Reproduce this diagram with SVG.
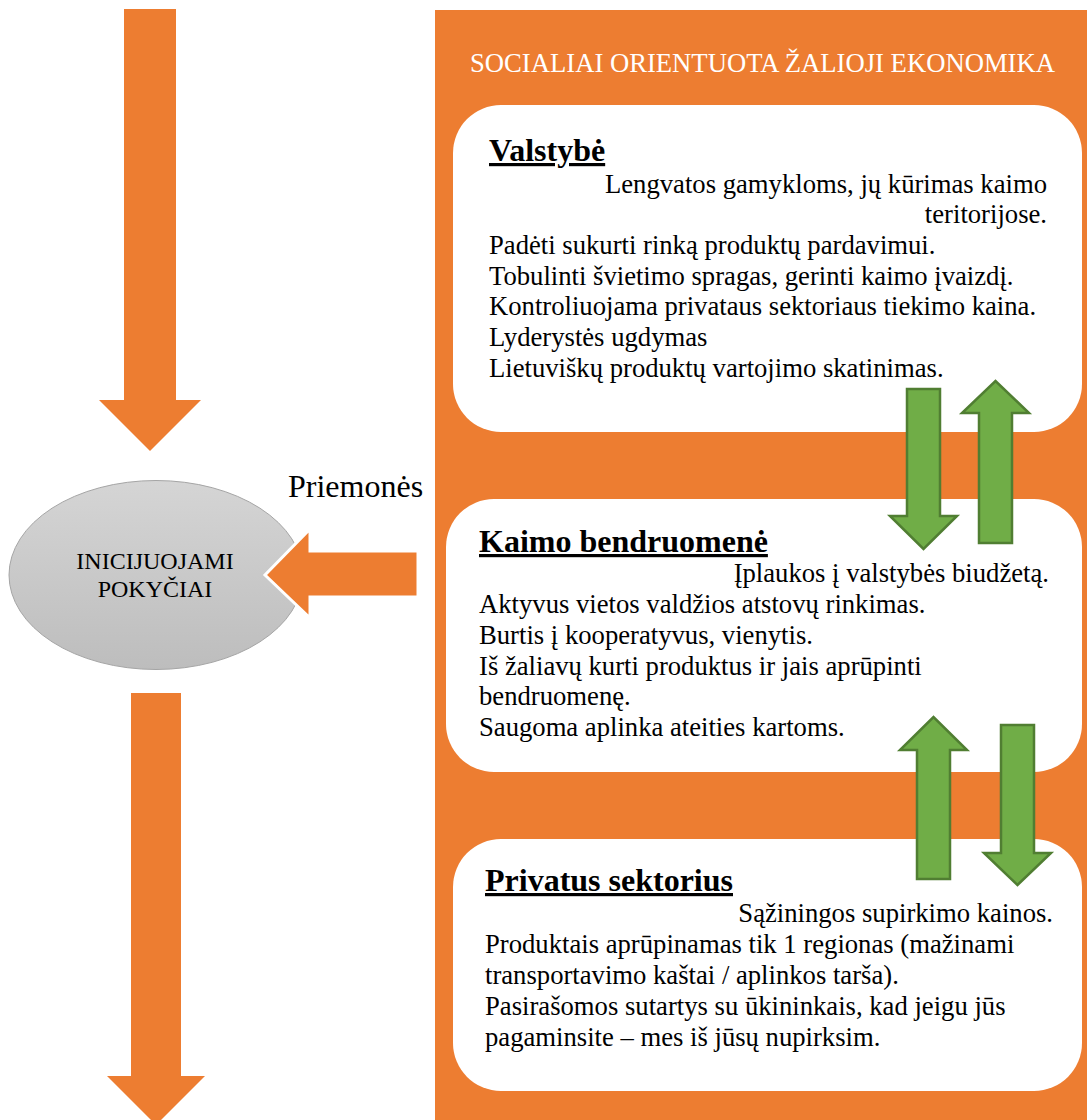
<svg xmlns="http://www.w3.org/2000/svg" width="1087" height="1120" viewBox="0 0 1087 1120" font-family="Liberation Serif, Tinos, DejaVu Serif, serif">
<style>
.orange{fill:#ed7d31}
.green{fill:#70ad47;stroke:#507e32;stroke-width:2.5;stroke-linejoin:miter}
.box{fill:#ffffff}
text{font-family:'Liberation Serif',Tinos,'DejaVu Serif',serif}
.body{font-size:26.67px;fill:#000}
.title{font-size:32px;font-weight:bold;fill:#000;text-decoration:underline;text-decoration-thickness:3px}
.end{text-anchor:end}
.white{font-size:26.67px;fill:#ffffff}
.oval{font-size:24px;fill:#000;text-anchor:middle}
.big{font-size:32px;fill:#000}
</style>
<defs>
<linearGradient id="grey" x1="0" y1="0" x2="0" y2="1">
<stop offset="0" stop-color="#d5d5d5"/>
<stop offset="1" stop-color="#bdbdbd"/>
</linearGradient>
</defs>
<rect id="panel" class="orange" x="435" y="10" width="660" height="1115"/>
<g id="panel-title">
<text class="white" x="470" y="72">SOCIALIAI ORIENTUOTA ŽALIOJI EKONOMIKA</text>
</g>
<g id="valstybe">
<rect class="box" x="453" y="105" width="629" height="327" rx="48" ry="48"/>
<text class="title" x="489" y="161">Valstybė</text>
<text class="body end" x="1047" y="193">Lengvatos gamykloms, jų kūrimas kaimo</text>
<text class="body end" x="1047" y="223">teritorijose.</text>
<text class="body" x="489" y="254">Padėti sukurti rinką produktų pardavimui.</text>
<text class="body" x="489" y="285">Tobulinti švietimo spragas, gerinti kaimo įvaizdį.</text>
<text class="body" x="489" y="315">Kontroliuojama privataus sektoriaus tiekimo kaina.</text>
<text class="body" x="489" y="346">Lyderystės ugdymas</text>
<text class="body" x="489" y="377">Lietuviškų produktų vartojimo skatinimas.</text>
</g>
<g id="kaimo">
<rect class="box" x="446" y="499" width="636" height="273" rx="48" ry="48"/>
<text class="title" x="479" y="552">Kaimo bendruomenė</text>
<text class="body end" x="1049" y="582">Įplaukos į valstybės biudžetą.</text>
<text class="body" x="479" y="613">Aktyvus vietos valdžios atstovų rinkimas.</text>
<text class="body" x="479" y="644">Burtis į kooperatyvus, vienytis.</text>
<text class="body" x="479" y="675">Iš žaliavų kurti produktus ir jais aprūpinti</text>
<text class="body" x="479" y="705">bendruomenę.</text>
<text class="body" x="479" y="736">Saugoma aplinka ateities kartoms.</text>
</g>
<g id="privatus">
<rect class="box" x="453" y="839" width="629" height="252" rx="48" ry="48"/>
<text class="title" x="485" y="891">Privatus sektorius</text>
<text class="body end" x="1053" y="922">Sąžiningos supirkimo kainos.</text>
<text class="body" x="485" y="953">Produktais aprūpinamas tik 1 regionas (mažinami</text>
<text class="body" x="485" y="984">transportavimo kaštai / aplinkos tarša).</text>
<text class="body" x="485" y="1015">Pasirašomos sutartys su ūkininkais, kad jeigu jūs</text>
<text class="body" x="485" y="1046">pagaminsite – mes iš jūsų nupirksim.</text>
</g>
<g id="pokyciai">
<ellipse cx="156" cy="575" rx="147" ry="94.5" fill="url(#grey)" stroke="#a5a5a5" stroke-width="1"/>
<text class="oval" x="155" y="569">INICIJUOJAMI</text>
<text class="oval" x="155" y="597">POKYČIAI</text>
</g>
<g id="priemones-label">
<text class="big" x="288" y="497">Priemonės</text>
</g>
<g id="connectors">
<polygon class="orange" points="124,9 176,9 176,400 201,400 150,451 99,400 124,400"/>
<polygon class="orange" points="131,693 181,693 181,1076 205,1076 156,1125 107,1076 131,1076"/>
<polygon class="orange" stroke="#ffffff" stroke-width="3" points="418,551 310,551 310,529 265,575 310,618 310,597 418,597"/>
<polygon class="green" points="907,389 940,389 940,516 957,516 923.5,549 890,516 907,516"/>
<polygon class="green" points="979,543 1012,543 1012,413 1029,413 995.5,381 962,413 979,413"/>
<polygon class="green" points="917,879 950,879 950,750 967,750 933.5,717 900,750 917,750"/>
<polygon class="green" points="1001,725 1034,725 1034,853 1051,853 1017.5,885 984,853 1001,853"/>
</g>
</svg>
